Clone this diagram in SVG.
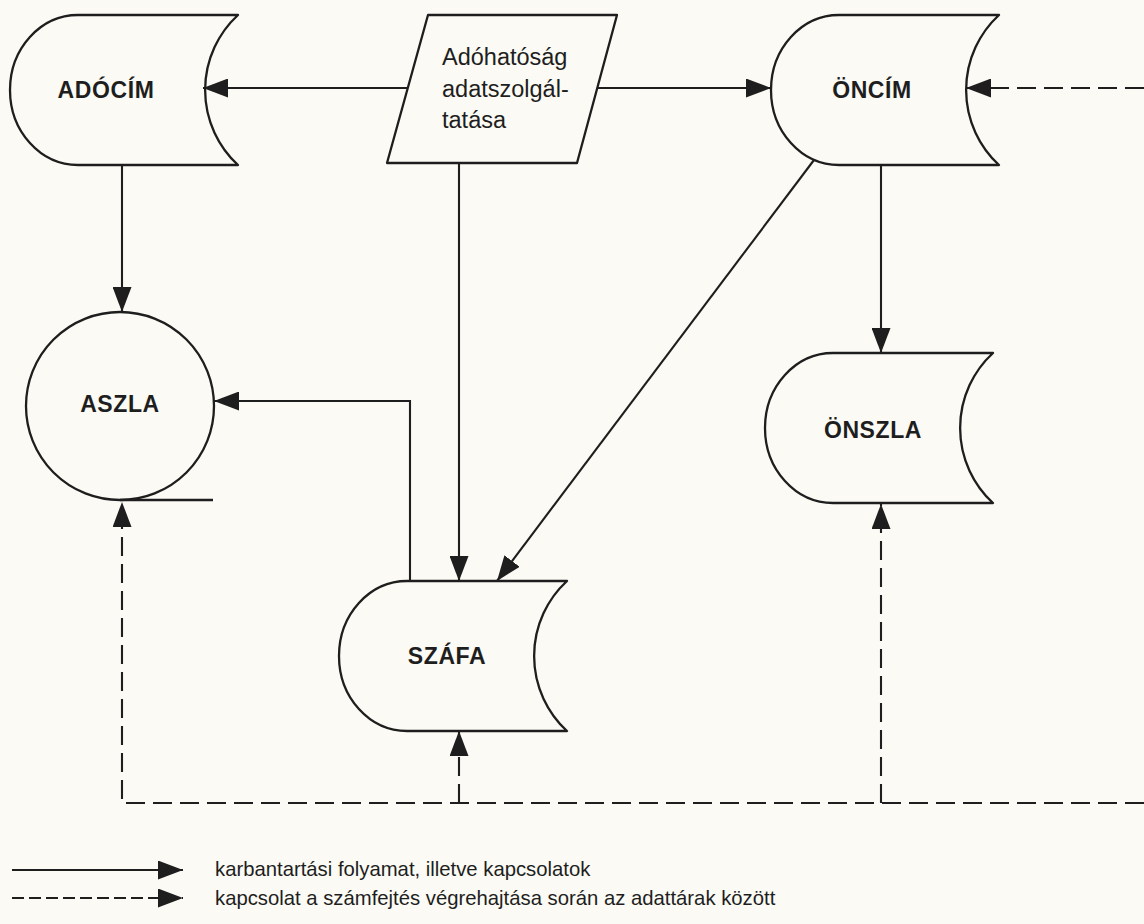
<svg xmlns="http://www.w3.org/2000/svg" xmlns:xlink="http://www.w3.org/1999/xlink" width="1144" height="924" viewBox="0 0 1144 924">
<style>
.shape{fill:none;stroke:#1e1e1e;stroke-width:2.3;stroke-linejoin:round}
.lbl{font-family:"Liberation Sans",Arial,sans-serif;font-weight:bold;font-size:23px;letter-spacing:0.6px;fill:#1e1e1e;text-anchor:middle}
.ptxt{font-family:"Liberation Sans",Arial,sans-serif;font-size:23.5px;fill:#1e1e1e}
.leg{font-family:"Liberation Sans",Arial,sans-serif;font-size:20.3px;fill:#1e1e1e}
.c{fill:none;stroke:#1e1e1e;stroke-width:2.1}
.d{fill:none;stroke:#1e1e1e;stroke-width:2.1;stroke-dasharray:19 8}
</style>
<defs>
<marker id="ah" viewBox="0 0 25 19" refX="25" refY="9.5" markerWidth="25" markerHeight="19" markerUnits="userSpaceOnUse" orient="auto">
<path d="M0,0 L25,9.5 L0,19 Z" fill="#1e1e1e"/>
</marker>
<path id="store" d="M68,0 H228 A102,102 0 0 0 228,150 H68 A68,75 0 0 1 68,0 Z"/>
</defs>
<rect width="1144" height="924" fill="#fbfaf4"/>

<g id="connectors">
<line class="c" x1="408" y1="88" x2="203" y2="88" marker-end="url(#ah)"/>
<line class="c" x1="597" y1="88" x2="771" y2="88" marker-end="url(#ah)"/>
<line class="d" x1="1144" y1="88" x2="966" y2="88" marker-end="url(#ah)"/>
<line class="c" x1="122" y1="165" x2="122" y2="312" marker-end="url(#ah)"/>
<line class="c" x1="459" y1="163" x2="459" y2="581" marker-end="url(#ah)"/>
<line class="c" x1="814" y1="160" x2="497" y2="581" marker-end="url(#ah)"/>
<line class="c" x1="881" y1="165" x2="881" y2="353" marker-end="url(#ah)"/>
<path class="c" d="M410,581 V401 H214" marker-end="url(#ah)"/>
<path class="d" d="M1144,803 H122 V502" marker-end="url(#ah)"/>
<line class="d" x1="459" y1="803" x2="459" y2="731" marker-end="url(#ah)"/>
<line class="d" x1="881" y1="803" x2="881" y2="504" marker-end="url(#ah)"/>
</g>

<g id="adocim">
<use xlink:href="#store" class="shape" x="10" y="15"/>
<text class="lbl" x="106" y="98">ADÓCÍM</text>
</g>
<g id="adohatosag">
<path class="shape" d="M428,15 H617 L577,163 H387 Z"/>
<text class="ptxt" x="442" y="65">Adóhatóság</text>
<text class="ptxt" x="442" y="97">adatszolgál-</text>
<text class="ptxt" x="442" y="128">tatása</text>
</g>
<g id="oncim">
<use xlink:href="#store" class="shape" x="771" y="15"/>
<text class="lbl" x="872" y="98">ÖNCÍM</text>
</g>
<g id="aszla">
<circle class="shape" cx="120" cy="406" r="94"/>
<line class="shape" x1="120" y1="500" x2="213" y2="500"/>
<text class="lbl" x="120" y="412">ASZLA</text>
</g>
<g id="szafa">
<use xlink:href="#store" class="shape" x="339" y="581"/>
<text class="lbl" x="447" y="664">SZÁFA</text>
</g>
<g id="onszla">
<use xlink:href="#store" class="shape" x="765" y="353"/>
<text class="lbl" x="873" y="438">ÖNSZLA</text>
</g>

<g id="legend">
<line class="c" x1="12" y1="870" x2="183" y2="870" marker-end="url(#ah)"/>
<line class="c" x1="12" y1="898" x2="183" y2="898" stroke-dasharray="12 5" marker-end="url(#ah)"/>
<text class="leg" x="215" y="876">karbantartási folyamat, illetve kapcsolatok</text>
<text class="leg" x="215" y="905">kapcsolat a számfejtés végrehajtása során az adattárak között</text>
</g>
</svg>
